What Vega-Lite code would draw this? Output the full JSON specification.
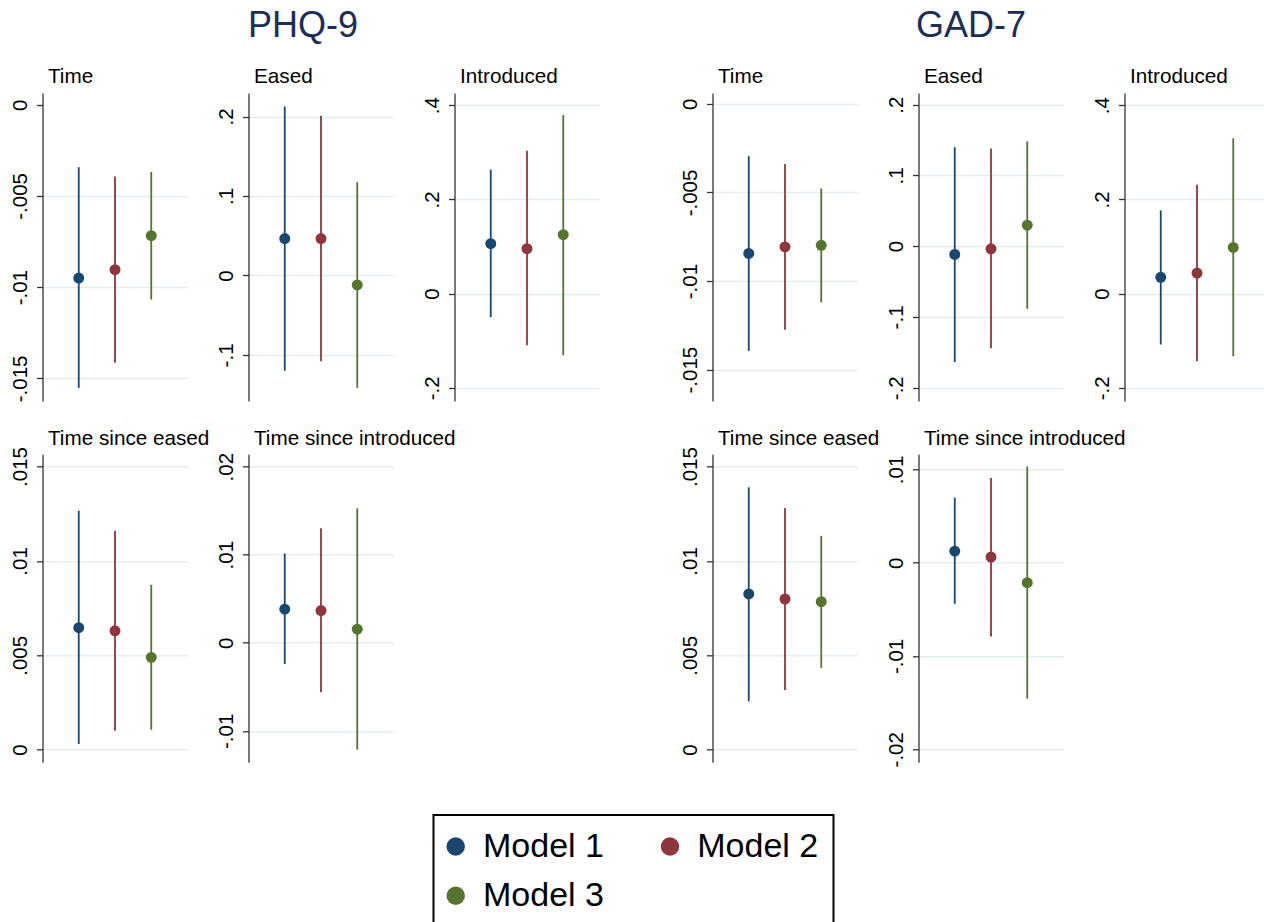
{
  "$schema": "https://vega.github.io/schema/vega-lite/v6.json",
  "padding": {"left": 10.5, "top": 8, "right": 0, "bottom": 0},
  "background": "white",
  "datasets": {
    "coef": [
      {"outcome": "PHQ-9", "term": "Time", "model": "Model 1", "est": -0.0095, "lo": -0.01552, "hi": -0.00343},
      {"outcome": "PHQ-9", "term": "Time", "model": "Model 2", "est": -0.00904, "lo": -0.01415, "hi": -0.00393},
      {"outcome": "PHQ-9", "term": "Time", "model": "Model 3", "est": -0.00718, "lo": -0.01068, "hi": -0.00369},
      {"outcome": "PHQ-9", "term": "Eased", "model": "Model 1", "est": 0.0464, "lo": -0.1198, "hi": 0.2127},
      {"outcome": "PHQ-9", "term": "Eased", "model": "Model 2", "est": 0.0464, "lo": -0.108, "hi": 0.201},
      {"outcome": "PHQ-9", "term": "Eased", "model": "Model 3", "est": -0.012, "lo": -0.1416, "hi": 0.1174},
      {"outcome": "PHQ-9", "term": "Introduced", "model": "Model 1", "est": 0.106, "lo": -0.05, "hi": 0.263},
      {"outcome": "PHQ-9", "term": "Introduced", "model": "Model 2", "est": 0.0953, "lo": -0.1095, "hi": 0.303},
      {"outcome": "PHQ-9", "term": "Introduced", "model": "Model 3", "est": 0.125, "lo": -0.131, "hi": 0.379},
      {"outcome": "GAD-7", "term": "Time", "model": "Model 1", "est": -0.00844, "lo": -0.01395, "hi": -0.00295},
      {"outcome": "GAD-7", "term": "Time", "model": "Model 2", "est": -0.00807, "lo": -0.01275, "hi": -0.00339},
      {"outcome": "GAD-7", "term": "Time", "model": "Model 3", "est": -0.00798, "lo": -0.01121, "hi": -0.00477},
      {"outcome": "GAD-7", "term": "Eased", "model": "Model 1", "est": -0.0117, "lo": -0.1637, "hi": 0.1397},
      {"outcome": "GAD-7", "term": "Eased", "model": "Model 2", "est": -0.0038, "lo": -0.1444, "hi": 0.1379},
      {"outcome": "GAD-7", "term": "Eased", "model": "Model 3", "est": 0.0296, "lo": -0.0885, "hi": 0.148},
      {"outcome": "GAD-7", "term": "Introduced", "model": "Model 1", "est": 0.0345, "lo": -0.108, "hi": 0.1765},
      {"outcome": "GAD-7", "term": "Introduced", "model": "Model 2", "est": 0.0436, "lo": -0.1434, "hi": 0.231},
      {"outcome": "GAD-7", "term": "Introduced", "model": "Model 3", "est": 0.098, "lo": -0.1328, "hi": 0.3297},
      {"outcome": "PHQ-9", "term": "Time since eased", "model": "Model 1", "est": 0.00646, "lo": 0.0003, "hi": 0.01266},
      {"outcome": "PHQ-9", "term": "Time since eased", "model": "Model 2", "est": 0.0063, "lo": 0.001, "hi": 0.0116},
      {"outcome": "PHQ-9", "term": "Time since eased", "model": "Model 3", "est": 0.00489, "lo": 0.00106, "hi": 0.00874},
      {"outcome": "PHQ-9", "term": "Time since introduced", "model": "Model 1", "est": 0.00382, "lo": -0.00242, "hi": 0.01013},
      {"outcome": "PHQ-9", "term": "Time since introduced", "model": "Model 2", "est": 0.00366, "lo": -0.00563, "hi": 0.013},
      {"outcome": "PHQ-9", "term": "Time since introduced", "model": "Model 3", "est": 0.00155, "lo": -0.01213, "hi": 0.01527},
      {"outcome": "GAD-7", "term": "Time since eased", "model": "Model 1", "est": 0.00825, "lo": 0.00256, "hi": 0.0139},
      {"outcome": "GAD-7", "term": "Time since eased", "model": "Model 2", "est": 0.00798, "lo": 0.00316, "hi": 0.0128},
      {"outcome": "GAD-7", "term": "Time since eased", "model": "Model 3", "est": 0.00784, "lo": 0.00433, "hi": 0.01133},
      {"outcome": "GAD-7", "term": "Time since introduced", "model": "Model 1", "est": 0.00124, "lo": -0.0044, "hi": 0.00697},
      {"outcome": "GAD-7", "term": "Time since introduced", "model": "Model 2", "est": 0.0006, "lo": -0.0079, "hi": 0.00907},
      {"outcome": "GAD-7", "term": "Time since introduced", "model": "Model 3", "est": -0.00214, "lo": -0.01458, "hi": 0.01032}
    ]
  },
  "columns": 6,
  "align": "each",
  "bounds": "flush",
  "spacing": {"row": 53.3, "column": 61},
  "resolve": {"scale": {"y": "independent", "x": "independent"}},
  "concat": [
    {"data": {"name": "coef"}, "transform": [{"filter": "datum.outcome == 'PHQ-9' && datum.term == 'Time'"}],
     "width": 145, "height": 308,
     "encoding": {"x": {"field": "model", "type": "nominal", "scale": {"type": "point", "padding": 1}, "axis": null}},
     "layer": [
       {"mark": {"type": "rule", "strokeWidth": 1.8}, "encoding": {
         "y": {"field": "lo", "type": "quantitative", "scale": {"domain": [-0.01624, 0.00064], "nice": false, "zero": false},
               "axis": {"title": "Time", "values": [0, -0.005, -0.01, -0.015], "labelExpr": "datum.value == 0 ? '0' : replace(toString(datum.value), '0.', '.')",
                        "gridColor": {"condition": {"test": "datum.value === 0", "value": "transparent"}, "value": "#e5edf0"}}},
         "y2": {"field": "hi"},
         "stroke": {"field": "model", "type": "nominal", "scale": {"domain": ["Model 1", "Model 2", "Model 3"], "range": ["#1a476f", "#90353b", "#55752f"]},
                    "legend": {"title": null, "orient": "none", "legendX": 391, "legendY": 722, "columns": 2, "direction": "horizontal", "symbolType": "circle"}}}},
       {"mark": {"type": "point", "filled": true, "size": 120, "opacity": 1}, "encoding": {
         "y": {"field": "est", "type": "quantitative"},
         "color": {"field": "model", "type": "nominal", "scale": {"domain": ["Model 1", "Model 2", "Model 3"], "range": ["#1a476f", "#90353b", "#55752f"]},
                   "legend": {"title": null, "orient": "none", "legendX": 391, "legendY": 722, "columns": 2, "direction": "horizontal", "symbolType": "circle"}}}}
     ]},

    {"data": {"name": "coef"}, "transform": [{"filter": "datum.outcome == 'PHQ-9' && datum.term == 'Eased'"}],
     "width": 145, "height": 308,
     "title": {"text": "PHQ-9", "anchor": "middle", "frame": "group", "fontSize": 36, "color": "#1d2d5a", "offset": -7.5, "dx": -18, "baseline": "alphabetic"},
     "encoding": {"x": {"field": "model", "type": "nominal", "scale": {"type": "point", "padding": 1}, "axis": null}},
     "layer": [
       {"mark": {"type": "rule", "strokeWidth": 1.8}, "encoding": {
         "y": {"field": "lo", "type": "quantitative", "scale": {"domain": [-0.158, 0.2296], "nice": false, "zero": false},
               "axis": {"title": "Eased", "values": [0.2, 0.1, 0, -0.1], "labelExpr": "datum.value == 0 ? '0' : replace(toString(datum.value), '0.', '.')"}},
         "y2": {"field": "hi"},
         "stroke": {"field": "model", "type": "nominal", "legend": {"title": null, "orient": "none", "legendX": 391, "legendY": 722, "columns": 2, "direction": "horizontal", "symbolType": "circle"}}}},
       {"mark": {"type": "point", "filled": true, "size": 120, "opacity": 1}, "encoding": {
         "y": {"field": "est", "type": "quantitative"},
         "color": {"field": "model", "type": "nominal", "legend": {"title": null, "orient": "none", "legendX": 391, "legendY": 722, "columns": 2, "direction": "horizontal", "symbolType": "circle"}}}}
     ]},

    {"data": {"name": "coef"}, "transform": [{"filter": "datum.outcome == 'PHQ-9' && datum.term == 'Introduced'"}],
     "width": 145, "height": 308,
     "encoding": {"x": {"field": "model", "type": "nominal", "scale": {"type": "point", "padding": 1}, "axis": null}},
     "layer": [
       {"mark": {"type": "rule", "strokeWidth": 1.8}, "encoding": {
         "y": {"field": "lo", "type": "quantitative", "scale": {"domain": [-0.228, 0.4258], "nice": false, "zero": false},
               "axis": {"title": "Introduced", "values": [0.4, 0.2, 0, -0.2], "labelExpr": "datum.value == 0 ? '0' : replace(toString(datum.value), '0.', '.')"}},
         "y2": {"field": "hi"},
         "stroke": {"field": "model", "type": "nominal", "legend": {"title": null, "orient": "none", "legendX": 391, "legendY": 722, "columns": 2, "direction": "horizontal", "symbolType": "circle"}}}},
       {"mark": {"type": "point", "filled": true, "size": 120, "opacity": 1}, "encoding": {
         "y": {"field": "est", "type": "quantitative"},
         "color": {"field": "model", "type": "nominal", "legend": {"title": null, "orient": "none", "legendX": 391, "legendY": 722, "columns": 2, "direction": "horizontal", "symbolType": "circle"}}}}
     ]},

    {"data": {"name": "coef"}, "transform": [{"filter": "datum.outcome == 'GAD-7' && datum.term == 'Time'"}],
     "width": 145, "height": 308,
     "encoding": {"x": {"field": "model", "type": "nominal", "scale": {"type": "point", "padding": 1}, "axis": null}},
     "layer": [
       {"mark": {"type": "rule", "strokeWidth": 1.8}, "encoding": {
         "y": {"field": "lo", "type": "quantitative", "scale": {"domain": [-0.01677, 0.000614], "nice": false, "zero": false},
               "axis": {"title": "Time", "values": [0, -0.005, -0.01, -0.015], "labelExpr": "datum.value == 0 ? '0' : replace(toString(datum.value), '0.', '.')"}},
         "y2": {"field": "hi"},
         "stroke": {"field": "model", "type": "nominal", "legend": {"title": null, "orient": "none", "legendX": 391, "legendY": 722, "columns": 2, "direction": "horizontal", "symbolType": "circle"}}}},
       {"mark": {"type": "point", "filled": true, "size": 120, "opacity": 1}, "encoding": {
         "y": {"field": "est", "type": "quantitative"},
         "color": {"field": "model", "type": "nominal", "legend": {"title": null, "orient": "none", "legendX": 391, "legendY": 722, "columns": 2, "direction": "horizontal", "symbolType": "circle"}}}}
     ]},

    {"data": {"name": "coef"}, "transform": [{"filter": "datum.outcome == 'GAD-7' && datum.term == 'Eased'"}],
     "width": 145, "height": 308,
     "title": {"text": "GAD-7", "anchor": "middle", "frame": "group", "fontSize": 36, "color": "#1d2d5a", "offset": -7.5, "dx": -20, "baseline": "alphabetic"},
     "encoding": {"x": {"field": "model", "type": "nominal", "scale": {"type": "point", "padding": 1}, "axis": null}},
     "layer": [
       {"mark": {"type": "rule", "strokeWidth": 1.8}, "encoding": {
         "y": {"field": "lo", "type": "quantitative", "scale": {"domain": [-0.2188, 0.2164], "nice": false, "zero": false},
               "axis": {"title": "Eased", "values": [0.2, 0.1, 0, -0.1, -0.2], "labelExpr": "datum.value == 0 ? '0' : replace(toString(datum.value), '0.', '.')"}},
         "y2": {"field": "hi"},
         "stroke": {"field": "model", "type": "nominal", "legend": {"title": null, "orient": "none", "legendX": 391, "legendY": 722, "columns": 2, "direction": "horizontal", "symbolType": "circle"}}}},
       {"mark": {"type": "point", "filled": true, "size": 120, "opacity": 1}, "encoding": {
         "y": {"field": "est", "type": "quantitative"},
         "color": {"field": "model", "type": "nominal", "legend": {"title": null, "orient": "none", "legendX": 391, "legendY": 722, "columns": 2, "direction": "horizontal", "symbolType": "circle"}}}}
     ]},

    {"data": {"name": "coef"}, "transform": [{"filter": "datum.outcome == 'GAD-7' && datum.term == 'Introduced'"}],
     "width": 145, "height": 308,
     "encoding": {"x": {"field": "model", "type": "nominal", "scale": {"type": "point", "padding": 1}, "axis": null}},
     "layer": [
       {"mark": {"type": "rule", "strokeWidth": 1.8}, "encoding": {
         "y": {"field": "lo", "type": "quantitative", "scale": {"domain": [-0.228, 0.4258], "nice": false, "zero": false},
               "axis": {"title": "Introduced", "values": [0.4, 0.2, 0, -0.2], "labelExpr": "datum.value == 0 ? '0' : replace(toString(datum.value), '0.', '.')"}},
         "y2": {"field": "hi"},
         "stroke": {"field": "model", "type": "nominal", "legend": {"title": null, "orient": "none", "legendX": 391, "legendY": 722, "columns": 2, "direction": "horizontal", "symbolType": "circle"}}}},
       {"mark": {"type": "point", "filled": true, "size": 120, "opacity": 1}, "encoding": {
         "y": {"field": "est", "type": "quantitative"},
         "color": {"field": "model", "type": "nominal", "legend": {"title": null, "orient": "none", "legendX": 391, "legendY": 722, "columns": 2, "direction": "horizontal", "symbolType": "circle"}}}}
     ]},

    {"data": {"name": "coef"}, "transform": [{"filter": "datum.outcome == 'PHQ-9' && datum.term == 'Time since eased'"}],
     "width": 145, "height": 308,
     "encoding": {"x": {"field": "model", "type": "nominal", "scale": {"type": "point", "padding": 1}, "axis": null}},
     "layer": [
       {"mark": {"type": "rule", "strokeWidth": 1.8}, "encoding": {
         "y": {"field": "lo", "type": "quantitative", "scale": {"domain": [-0.00067, 0.01565], "nice": false, "zero": false},
               "axis": {"title": "Time since eased", "titleY": -10, "values": [0.015, 0.01, 0.005, 0], "labelExpr": "datum.value == 0 ? '0' : replace(toString(datum.value), '0.', '.')"}},
         "y2": {"field": "hi"},
         "stroke": {"field": "model", "type": "nominal", "legend": {"title": null, "orient": "none", "legendX": 391, "legendY": 722, "columns": 2, "direction": "horizontal", "symbolType": "circle"}}}},
       {"mark": {"type": "point", "filled": true, "size": 120, "opacity": 1}, "encoding": {
         "y": {"field": "est", "type": "quantitative"},
         "color": {"field": "model", "type": "nominal", "legend": {"title": null, "orient": "none", "legendX": 391, "legendY": 722, "columns": 2, "direction": "horizontal", "symbolType": "circle"}}}}
     ]},

    {"data": {"name": "coef"}, "transform": [{"filter": "datum.outcome == 'PHQ-9' && datum.term == 'Time since introduced'"}],
     "width": 145, "height": 308,
     "encoding": {"x": {"field": "model", "type": "nominal", "scale": {"type": "point", "padding": 1}, "axis": null}},
     "layer": [
       {"mark": {"type": "rule", "strokeWidth": 1.8}, "encoding": {
         "y": {"field": "lo", "type": "quantitative", "scale": {"domain": [-0.01357, 0.0214], "nice": false, "zero": false},
               "axis": {"title": "Time since introduced", "titleY": -10, "values": [0.02, 0.01, 0, -0.01], "labelExpr": "datum.value == 0 ? '0' : replace(toString(datum.value), '0.', '.')"}},
         "y2": {"field": "hi"},
         "stroke": {"field": "model", "type": "nominal", "legend": {"title": null, "orient": "none", "legendX": 391, "legendY": 722, "columns": 2, "direction": "horizontal", "symbolType": "circle"}}}},
       {"mark": {"type": "point", "filled": true, "size": 120, "opacity": 1}, "encoding": {
         "y": {"field": "est", "type": "quantitative"},
         "color": {"field": "model", "type": "nominal", "legend": {"title": null, "orient": "none", "legendX": 391, "legendY": 722, "columns": 2, "direction": "horizontal", "symbolType": "circle"}}}}
     ]},

    {"data": {"values": []}, "mark": "point", "width": 197, "height": 308},

    {"data": {"name": "coef"}, "transform": [{"filter": "datum.outcome == 'GAD-7' && datum.term == 'Time since eased'"}],
     "width": 145, "height": 308,
     "encoding": {"x": {"field": "model", "type": "nominal", "scale": {"type": "point", "padding": 1}, "axis": null}},
     "layer": [
       {"mark": {"type": "rule", "strokeWidth": 1.8}, "encoding": {
         "y": {"field": "lo", "type": "quantitative", "scale": {"domain": [-0.00067, 0.01565], "nice": false, "zero": false},
               "axis": {"title": "Time since eased", "titleY": -10, "values": [0.015, 0.01, 0.005, 0], "labelExpr": "datum.value == 0 ? '0' : replace(toString(datum.value), '0.', '.')"}},
         "y2": {"field": "hi"},
         "stroke": {"field": "model", "type": "nominal", "legend": {"title": null, "orient": "none", "legendX": 391, "legendY": 722, "columns": 2, "direction": "horizontal", "symbolType": "circle"}}}},
       {"mark": {"type": "point", "filled": true, "size": 120, "opacity": 1}, "encoding": {
         "y": {"field": "est", "type": "quantitative"},
         "color": {"field": "model", "type": "nominal", "legend": {"title": null, "orient": "none", "legendX": 391, "legendY": 722, "columns": 2, "direction": "horizontal", "symbolType": "circle"}}}}
     ]},

    {"data": {"name": "coef"}, "transform": [{"filter": "datum.outcome == 'GAD-7' && datum.term == 'Time since introduced'"}],
     "width": 145, "height": 308,
     "encoding": {"x": {"field": "model", "type": "nominal", "scale": {"type": "point", "padding": 1}, "axis": null}},
     "layer": [
       {"mark": {"type": "rule", "strokeWidth": 1.8}, "encoding": {
         "y": {"field": "lo", "type": "quantitative", "scale": {"domain": [-0.0214, 0.01162], "nice": false, "zero": false},
               "axis": {"title": "Time since introduced", "titleY": -10, "values": [0.01, 0, -0.01, -0.02], "labelExpr": "datum.value == 0 ? '0' : replace(toString(datum.value), '0.', '.')"}},
         "y2": {"field": "hi"},
         "stroke": {"field": "model", "type": "nominal", "legend": {"title": null, "orient": "none", "legendX": 391, "legendY": 722, "columns": 2, "direction": "horizontal", "symbolType": "circle"}}}},
       {"mark": {"type": "point", "filled": true, "size": 120, "opacity": 1}, "encoding": {
         "y": {"field": "est", "type": "quantitative"},
         "color": {"field": "model", "type": "nominal", "legend": {"title": null, "orient": "none", "legendX": 391, "legendY": 722, "columns": 2, "direction": "horizontal", "symbolType": "circle"}}}}
     ]}
  ],
  "config": {
    "font": "Liberation Sans",
    "view": {"stroke": null},
    "axisY": {"domainColor": "#333333", "domainWidth": 1.3, "tickColor": "#333333", "tickWidth": 1.3, "tickSize": 6,
              "labelFontSize": 20.5, "labelColor": "black", "labelAngle": 270, "labelAlign": "center", "labelBaseline": "bottom",
              "labelPadding": 6, "labelFont": "Liberation Sans", "labelOverlap": false, "labelFlush": false,
              "grid": true, "gridColor": "#e5edf0", "gridWidth": 1.5,
              "titleAngle": 0, "titleAlign": "left", "titleBaseline": "alphabetic", "titleX": 5, "titleY": -10.5,
              "titleFontSize": 20.7, "titleFontWeight": "normal", "titleColor": "black", "titleFont": "Liberation Sans"},
    "title": {"fontWeight": "normal", "font": "Liberation Sans"},
    "legend": {"labelFontSize": 34, "labelFont": "Liberation Sans", "labelColor": "black", "symbolSize": 340, "symbolType": "circle",
               "symbolStrokeWidth": 0, "symbolOpacity": 1, "labelOffset": 10.3, "symbolOffset": -9.3, "columnPadding": 56.3, "rowPadding": 15.3, "padding": 14.5,
               "strokeColor": "black", "strokeWidth": 2}
  }
}
